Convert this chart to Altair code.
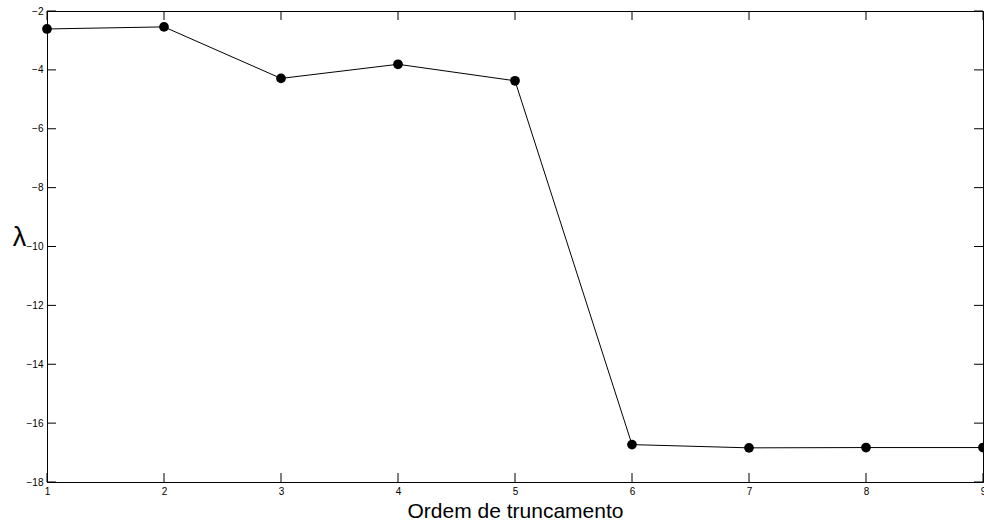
import altair as alt
import pandas as pd

# Truncation order and the corresponding lambda values
ordem = [1, 2, 3, 4, 5, 6, 7, 8, 9]
lam = [-2.61, -2.54, -4.29, -3.81, -4.37, -16.73, -16.84, -16.83, -16.83]

x_ticks = [1, 2, 3, 4, 5, 6, 7, 8, 9]
y_ticks = [-18, -16, -14, -12, -10, -8, -6, -4, -2]

W, H = 936, 471
TICK = 9
FONT = "Liberation Sans"

df = pd.DataFrame({"ordem": ordem, "lam": lam})
dfx = pd.DataFrame({"ordem": x_ticks})
dfy = pd.DataFrame({"lam": y_ticks})

xs = alt.Scale(domain=[1, 9], nice=False, zero=False)
ys = alt.Scale(domain=[-18, -2], nice=False, zero=False)

xaxis = alt.Axis(
    title="Ordem de truncamento", values=x_ticks, format="d",
    ticks=False, grid=False, domainColor="black", labelColor="black",
    labelFontSize=10, labelPadding=4, labelFont=FONT, labelFlush=False,
    titleFont=FONT, titleFontSize=21, titleFontWeight="normal",
    titleColor="black", titleBaseline="alphabetic", titleY=35)
yaxis = alt.Axis(
    title="λ", values=y_ticks, format="d",
    ticks=False, grid=False, domainColor="black", labelColor="black",
    labelFontSize=10, labelPadding=4, labelFont=FONT, labelFlush=False,
    titleFont=FONT, titleFontSize=27, titleFontWeight="normal",
    titleColor="black", titleAngle=0, titleBaseline="middle",
    titleAlign="center", titleX=-28, titleY=226)

X = alt.X("ordem:Q", scale=xs, axis=xaxis)
Y = alt.Y("lam:Q", scale=ys, axis=yaxis)

base = alt.Chart(df).encode(x=X, y=Y)
line = base.mark_line(color="black", strokeWidth=1)
pts = base.mark_circle(color="black", size=95, opacity=1)

# inward tick marks on all four sides
rule = dict(color="black", strokeWidth=1)
bx = alt.Chart(dfx).mark_rule(**rule).encode(x=X, y=alt.value(H), y2=alt.value(H - TICK))
tx = alt.Chart(dfx).mark_rule(**rule).encode(x=X, y=alt.value(0), y2=alt.value(TICK))
ly = alt.Chart(dfy).mark_rule(**rule).encode(y=Y, x=alt.value(0), x2=alt.value(TICK))
ry = alt.Chart(dfy).mark_rule(**rule).encode(y=Y, x=alt.value(W), x2=alt.value(W - TICK))

chart = alt.layer(line, bx, tx, ly, ry, pts).properties(
    width=W, height=H,
    autosize=alt.AutoSizeParams(type="none"),
    padding={"left": 47, "top": 11, "right": 1, "bottom": 43},
    background="white",
).configure_view(stroke="black", strokeWidth=1)

chart.save("out.html", embed_options={"renderer": "svg", "actions": False})
